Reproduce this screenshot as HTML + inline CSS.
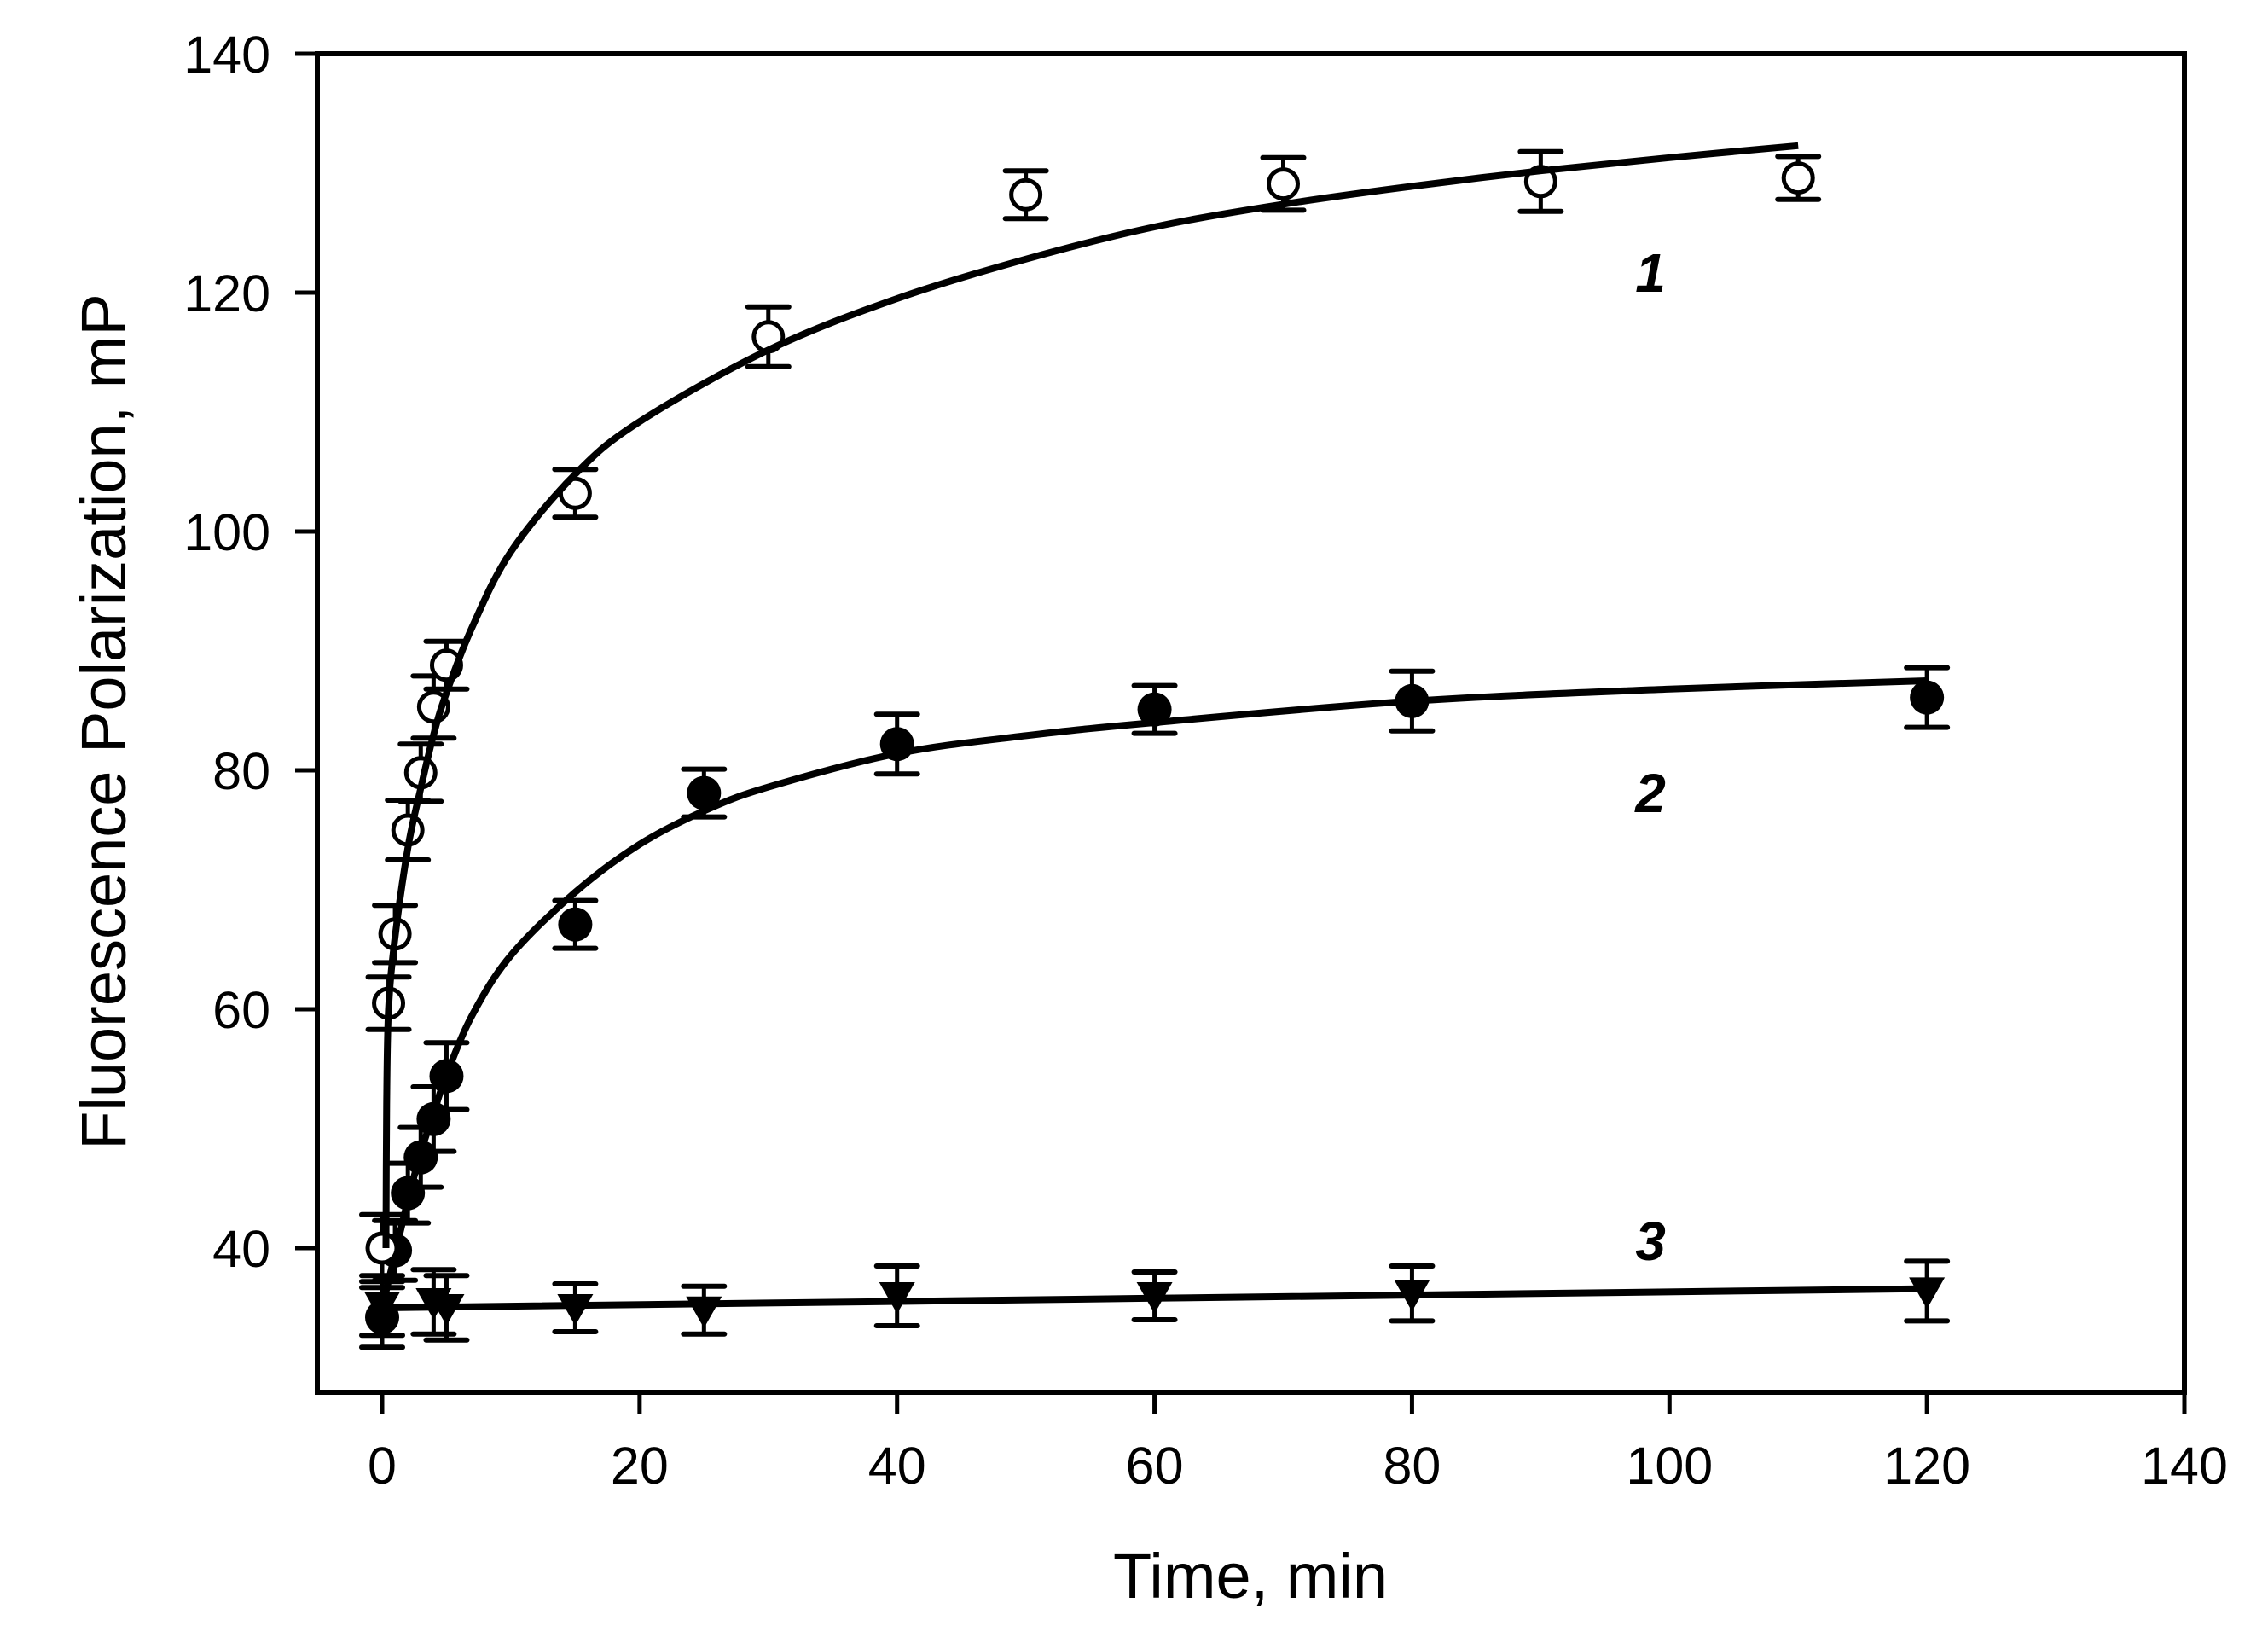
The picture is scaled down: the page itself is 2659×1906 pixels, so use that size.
<!DOCTYPE html>
<html><head><meta charset="utf-8"><style>
html,body{margin:0;padding:0;background:#fff;}
svg{display:block;font-family:"Liberation Sans",Arial,sans-serif;}
</style></head><body>
<svg id="chart" width="2659" height="1906" viewBox="0 0 2659 1906" xmlns="http://www.w3.org/2000/svg">
<rect x="0" y="0" width="2659" height="1906" fill="#fff"/>
<g id="plot"></g>
<text x="1466" y="1873" font-size="74" text-anchor="middle">Time, min</text>
<text transform="translate(147,846) rotate(-90)" font-size="74" text-anchor="middle">Fluorescence Polarization, mP</text>
</svg>
<script>
const xTicks=[0,20,40,60,80,100,120,140];
const yTicks=[40,60,80,100,120,140];
const s1x=[0,0.5,1,2,3,4,5,15,30,50,70,90,110];
const s1y=[40,60.5,66.3,75,79.8,85.3,88.8,103.2,116.3,128.2,129.1,129.3,129.6];
const s1e=[2.8,2.2,2.4,2.5,2.4,2.6,2,2,2.5,2,2.2,2.5,1.8];
const s2x=[0,1,2,3,4,5,15,25,40,60,80,120];
const s2y=[34.2,39.8,44.6,47.6,50.8,54.4,67.1,78.1,82.2,85.1,85.8,86.1];
const s2e=[2.5,2.5,2.5,2.5,2.7,2.8,2,2,2.5,2,2.5,2.5];
const s3x=[0,4,5,15,25,40,60,80,120];
const s3y=[35.2,35.5,35.0,35.0,34.8,36.0,36.0,36.2,36.4];
const s3e=[2.5,2.7,2.7,2,2,2.5,2,2.3,2.5];
const c1x=[0.3,0.35,0.5,1,2,3,4,5,7,10,15,20,30,40,50,60,70,80,90,100,110];
const c1y=[40,52,60,66,73.5,78.5,83,86.5,92,98.3,104.8,109.2,115.2,119.5,122.8,125.5,127.4,128.9,130.2,131.3,132.3];
const c2x=[0,1,2,3,4,5,7,10,15,20,25,30,40,50,60,80,100,120];
const c2y=[35,39.5,44,48,51.3,54.5,59.5,64.5,69.8,73.8,76.6,78.6,81.4,82.9,84,85.8,86.8,87.5];
const c3x=[0,120];
const c3y=[35,36.6];

const L=372,R=2561,T=63,B=1632;
function sx(v){return 448+(v-0)*(2561-448)/140;}
function sy(v){return 63+(140-v)*14;}
const NS="http://www.w3.org/2000/svg";
const plot=document.getElementById('plot');
function mk(tag,attrs,parent){const e=document.createElementNS(NS,tag);for(const k in attrs)e.setAttribute(k,attrs[k]);(parent||plot).appendChild(e);return e;}

const frame=mk('path',{d:`M${L} ${T} H${R} V${B} H${L} Z`,fill:'none',stroke:'#000','stroke-width':6});


xTicks.forEach(t=>{
  const x=sx(t);
  const tk=mk('line',{x1:x,x2:x,y1:B,y2:B+26,stroke:'#000','stroke-width':5});
  
  
  const lb=mk('text',{x:x,y:1739,'font-size':61,'text-anchor':'middle'});
  lb.textContent=t;
  
  
});
yTicks.forEach(t=>{
  const y=sy(t);
  const tk=mk('line',{x1:L-26,x2:L,y1:y,y2:y,stroke:'#000','stroke-width':5});
  
  
  const lb=mk('text',{x:317,y:y+22,'font-size':61,'text-anchor':'end'});
  lb.textContent=t;
  
  
});
function curve(xs,ys,name){
  const P=xs.map((v,i)=>[sx(v),sy(ys[i])]);
  let d='M'+P[0][0].toFixed(1)+' '+P[0][1].toFixed(1);
  for(let i=0;i<P.length-1;i++){
    const p0=P[Math.max(0,i-1)],p1=P[i],p2=P[i+1],p3=P[Math.min(P.length-1,i+2)];
    const c1=[p1[0]+(p2[0]-p0[0])/6,p1[1]+(p2[1]-p0[1])/6];
    const c2=[p2[0]-(p3[0]-p1[0])/6,p2[1]-(p3[1]-p1[1])/6];
    d+=` C${c1[0].toFixed(1)} ${c1[1].toFixed(1)} ${c2[0].toFixed(1)} ${c2[1].toFixed(1)} ${p2[0].toFixed(1)} ${p2[1].toFixed(1)}`;
  }
  const p=mk('path',{d:d,fill:'none',stroke:'#000','stroke-width':8,'stroke-linejoin':'round'});
  
  
}
function errs(xs,ys,es,name){
  xs.forEach((v,i)=>{
    const x=sx(v),yt=sy(ys[i]+es[i]),yb=sy(ys[i]-es[i]);
    const g=mk('g',{});
    
    
    mk('line',{x1:x,x2:x,y1:yt,y2:yb,stroke:'#000','stroke-width':5},g);
    mk('line',{x1:x-24,x2:x+24,y1:yt,y2:yt,stroke:'#000','stroke-width':6,'stroke-linecap':'round'},g);
    mk('line',{x1:x-24,x2:x+24,y1:yb,y2:yb,stroke:'#000','stroke-width':6,'stroke-linecap':'round'},g);
  });
}
function markers(xs,ys,type,name){
  xs.forEach((v,i)=>{
    const x=sx(v),y=sy(ys[i]);
    let m;
    if(type==='open') m=mk('circle',{cx:x,cy:y,r:17,fill:'#fff',stroke:'#000','stroke-width':5});
    else if(type==='filled') m=mk('circle',{cx:x,cy:y,r:20,fill:'#000'});
    else m=mk('path',{d:`M${x-21} ${y-16} L${x+21} ${y-16} L${x} ${y+21} Z`,fill:'#000'});
    
    
  });
}
errs(s3x,s3y,s3e,'error-bar-series-3');
errs(s2x,s2y,s2e,'error-bar-series-2');
errs(s1x,s1y,s1e,'error-bar-series-1');
curve(c3x,c3y,'fit-curve-3');
curve(c2x,c2y,'fit-curve-2');
markers(s3x,s3y,'tri','point-series-3');
markers(s2x,s2y,'filled','point-series-2');
markers(s1x,s1y,'open','point-series-1');
curve(c1x,c1y,'fit-curve-1');
[['1',319],['2',929],['3',1454]].forEach(a=>{
  const t=mk('text',{x:1935,y:a[1]+23,'font-size':64,'font-weight':'bold','font-style':'italic','text-anchor':'middle'});
  t.textContent=a[0];
  
  
});
</script>
</body></html>
